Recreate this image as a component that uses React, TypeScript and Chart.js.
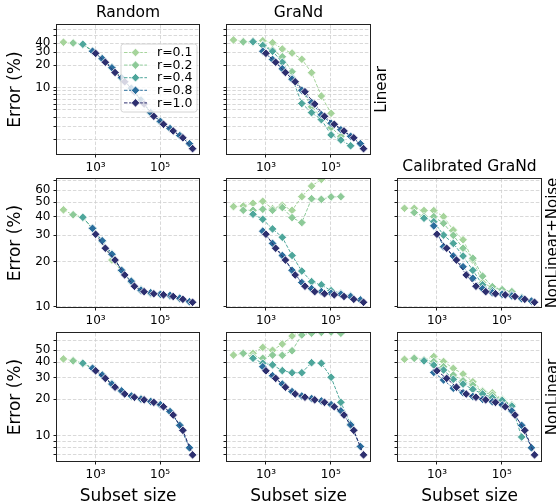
import { useEffect, useRef } from "react";
import { Chart, registerables } from "chart.js";

Chart.register(...registerables);
Chart.defaults.font.family = "'DejaVu Sans', sans-serif";
Chart.defaults.color = "#000";

const W = 556;
const H = 504;

// ---------- data ----------
const RATIO_LABELS = ["r=0.1", "r=0.2", "r=0.4", "r=0.8", "r=1.0"];
const COLORS = ["#a6d49b", "#8dca98", "#4ea69b", "#2b6e9d", "#2d2f6f"];

const SIZES_R01 = [100, 200, 400, 800, 1600, 3200, 6400, 12800, 25600, 51200, 102400];
const SIZES_R02 = [200, 400, 800, 1600, 3200, 6400, 12800, 25600, 51200, 102400, 204800];
const SIZES_R04 = [400, 800, 1600, 3200, 6400, 12800, 25600, 51200, 102400, 204800, 409600];
const SIZES_R08 = [800, 1600, 3200, 6400, 12800, 25600, 51200, 102400, 204800, 409600, 819200];
const SIZES_R10 = [1000, 2000, 4000, 8000, 16000, 32000, 64000, 128000, 256000, 512000, 1024000];
const SIZES = [SIZES_R01, SIZES_R02, SIZES_R04, SIZES_R08, SIZES_R10];

// r = 1.0 (no pruning) is identical for every method within a setting
const FULL_LINEAR = [29, 22, 16, 12, 8.8, 6.0, 4.1, 3.2, 2.6, 2.1, 1.5];
const FULL_NLNOISE = [30.5, 24.6, 20.5, 16.3, 13.7, 12.6, 12.2, 12.0, 11.7, 11.2, 10.7];
const FULL_NONLINEAR = [34, 29.5, 25, 22, 20.7, 19.7, 18.8, 17.3, 14.8, 11.1, 7.0];

// rows: r=0.1, r=0.2, r=0.4, r=0.8
const RANDOM_LINEAR = [
  [41, 40, 38.5, 31.5, 24.8, 18.8, 13.7, 9.9, 6.9, 4.6, 3.5],
  [40, 38.2, 31, 24.5, 18.4, 13.5, 9.7, 6.8, 4.6, 3.5, 2.8],
  [38.5, 31, 24.3, 18.6, 13.4, 9.8, 6.7, 4.5, 3.45, 2.8, 2.25],
  [31, 24.6, 18.5, 13.6, 9.8, 6.8, 4.6, 3.5, 2.8, 2.25, 1.75],
];
const GRAND_LINEAR = [
  [44, 41.7, 42, 43, 40.4, 33.2, 29.3, 24.1, 15.9, 7.7, 4.5],
  [41.5, 41, 38, 32.2, 26.1, 16.4, 9.3, 5.5, 4.0, 2.9, 2.2],
  [41.7, 37, 31, 22, 13.5, 6.1, 4.6, 3.7, 2.3, 1.96, 1.64],
  [31, 24, 18, 13, 9.2, 6.3, 4.3, 3.3, 2.7, 2.2, 1.75],
];
const RANDOM_NLNOISE = [
  [44.4, 41, 39.6, 33.2, 27.2, 20.5, 17.3, 14.6, 12.8, 12.4, 12.0],
  [41.2, 39.4, 33.6, 27.5, 22.3, 17.6, 14.9, 13.0, 12.2, 12.1, 11.8],
  [39.6, 33.3, 27.4, 22.6, 17.4, 14.7, 12.9, 12.3, 12.1, 11.9, 11.3],
  [33.4, 27.6, 22.4, 17.5, 14.8, 12.9, 12.4, 12.1, 11.9, 11.4, 10.8],
];
const GRAND_NLNOISE = [
  [46.7, 47.1, 49.1, 50.7, 45.2, 47.6, 44.1, 54.4, 64, 71, 82],
  [44.1, 44.1, 44.8, 44.1, 46.0, 39.4, 36.5, 52.7, 52.2, 54.2, 54.4],
  [41.5, 38.4, 33.1, 29.1, 22, 17.3, 14.7, 14.0, 12.8, 12.3, 11.8],
  [32, 26.5, 22, 17.5, 14.5, 13.2, 12.6, 12.3, 12.1, 11.7, 11.1],
];
const CALIB_NLNOISE = [
  [45.5, 45.5, 44, 43.9, 40, 32.5, 28, 20.5, 14.5, 13.4, 12.9],
  [42.6, 40, 40, 36.1, 30, 24.6, 21.1, 16, 13.6, 13, 12.6],
  [39, 37, 30.1, 26.5, 21.8, 17.5, 14, 12.8, 12.3, 12, 11.5],
  [34.7, 25.2, 21.8, 18.5, 15.5, 13.2, 12.4, 12.1, 11.8, 11.3, 10.9],
];
const RANDOM_NONLINEAR = [
  [42.5, 41.1, 39.0, 35.5, 31.2, 26.8, 23.1, 21.0, 20.1, 19.0, 18.1],
  [41.0, 39.3, 35.8, 31.5, 26.3, 23.4, 21.3, 19.9, 19.2, 17.9, 15.7],
  [39.2, 35.6, 31.3, 26.6, 23.2, 21.1, 20.0, 19.1, 18.0, 15.9, 12.3],
  [35.7, 31.4, 26.5, 23.3, 21.2, 20.0, 19.1, 18.0, 15.8, 12.2, 8.0],
];
const GRAND_NONLINEAR = [
  [45.7, 47.2, 47.2, 52.8, 50, 56.2, 65.4, 72, 78, 85, 90],
  [47.2, 44.3, 43, 45.7, 45.5, 49.6, 66.7, 69, 70, 70.5, 68.8],
  [43, 39.2, 38, 34.1, 32.8, 32.8, 39.6, 39.2, 30.1, 18.8, 12.5],
  [36.7, 31, 26.5, 23, 21.2, 20.2, 19.3, 18, 16, 12.3, 8.2],
];
const CALIB_NONLINEAR = [
  [42.2, 43.5, 41.7, 44.5, 40.5, 35.6, 32, 27.7, 23.3, 22.5, 20],
  [43, 41.7, 40.4, 36.7, 31.4, 28.2, 26, 23, 21.5, 19.9, 17.9],
  [41, 37.9, 34.5, 29, 26.5, 24, 22, 20.5, 19.5, 17.5, 9.8],
  [33, 28.6, 24.5, 22.5, 21, 19.9, 19, 17.9, 16, 12.2, 8.0],
];

const X_TICKS = [1000, 100000];
const X_TICK_LABELS = ["10³", "10⁵"];
const Y_TICKS_LINEAR = [2, 3, 4, 5, 6, 7, 8, 9, 10, 20, 30, 40, 50, 60];
const Y_LABELS_LINEAR = [10, 20, 30, 40];
const Y_TICKS_NLNOISE = [10, 20, 30, 40, 50, 60, 70];
const Y_LABELS_NLNOISE = [10, 20, 30, 40, 50, 60];
const Y_TICKS_NONLINEAR = [7, 8, 9, 10, 20, 30, 40, 50, 60];
const Y_LABELS_NONLINEAR = [10, 20, 30, 40, 50];

// ---------- layout ----------
const X_MIN = 63.1;
const X_MAX = 1.62e6;
const COLS = [
  { l: 57, r: 199 },
  { l: 227, r: 370 },
  { l: 398, r: 541 },
];
const ROWS = [
  { t: 25, b: 154, min: 1.27, max: 70, ticks: Y_TICKS_LINEAR, labels: Y_LABELS_LINEAR, full: FULL_LINEAR },
  { t: 179, b: 307, min: 9.95, max: 71.4, ticks: Y_TICKS_NLNOISE, labels: Y_LABELS_NLNOISE, full: FULL_NLNOISE },
  { t: 333, b: 461, min: 6.24, max: 69.2, ticks: Y_TICKS_NONLINEAR, labels: Y_LABELS_NONLINEAR, full: FULL_NONLINEAR },
];
const Y_AXIS_W = 40;
const X_AXIS_H = 24;

type PanelSpec = {
  col: number;
  row: number;
  series: number[][];
  title?: string;
  rowLabel?: string;
  ylabel?: boolean;
  xlabel?: boolean;
  legend?: boolean;
};

const PANELS: PanelSpec[] = [
  { col: 0, row: 0, series: RANDOM_LINEAR, title: "Random", ylabel: true, legend: true },
  { col: 1, row: 0, series: GRAND_LINEAR, title: "GraNd", rowLabel: "Linear" },
  { col: 0, row: 1, series: RANDOM_NLNOISE, ylabel: true },
  { col: 1, row: 1, series: GRAND_NLNOISE },
  { col: 2, row: 1, series: CALIB_NLNOISE, title: "Calibrated GraNd", rowLabel: "NonLinear+Noise" },
  { col: 0, row: 2, series: RANDOM_NONLINEAR, ylabel: true, xlabel: true },
  { col: 1, row: 2, series: GRAND_NONLINEAR, xlabel: true },
  { col: 2, row: 2, series: CALIB_NONLINEAR, xlabel: true, rowLabel: "NonLinear" },
];

const FONT = "'DejaVu Sans', sans-serif";
const GRID_COLOR = "#cfcfcf";

function drawDiamond(ctx: CanvasRenderingContext2D, x: number, y: number, r: number, color: string) {
  ctx.beginPath();
  ctx.moveTo(x - r, y);
  ctx.lineTo(x, y - r);
  ctx.lineTo(x + r, y);
  ctx.lineTo(x, y + r);
  ctx.closePath();
  ctx.fillStyle = color;
  ctx.fill();
  ctx.strokeStyle = "rgba(255,255,255,0.9)";
  ctx.lineWidth = 0.9;
  ctx.stroke();
}

const decorPlugin = {
  id: "decor",
  afterDraw(chart: any, _args: any, opts: any) {
    const ctx: CanvasRenderingContext2D = chart.ctx;
    const a = chart.chartArea;
    ctx.save();
    // frame
    ctx.strokeStyle = "#222";
    ctx.lineWidth = 1;
    ctx.setLineDash([]);
    ctx.strokeRect(Math.round(a.left) - 0.5, Math.round(a.top) - 0.5, Math.round(a.right - a.left) + 1, Math.round(a.bottom - a.top) + 1);

    const cx = (a.left + a.right) / 2;
    const cy = (a.top + a.bottom) / 2;
    ctx.fillStyle = "#000";
    if (opts.title) {
      ctx.font = `15.5px ${FONT}`;
      ctx.textAlign = "center";
      ctx.textBaseline = "alphabetic";
      ctx.fillText(opts.title, cx, a.top - 8);
    }
    if (opts.xlabel) {
      ctx.font = `17px ${FONT}`;
      ctx.textAlign = "center";
      ctx.textBaseline = "alphabetic";
      ctx.fillText("Subset size", cx, 501);
    }
    const vtext = (t: string, x: number, y: number, size: number) => {
      ctx.save();
      ctx.translate(x, y);
      ctx.rotate(-Math.PI / 2);
      ctx.font = `${size}px ${FONT}`;
      ctx.textAlign = "center";
      ctx.textBaseline = "middle";
      ctx.fillText(t, 0, 0);
      ctx.restore();
    };
    if (opts.ylabel) vtext("Error (%)", 16, cy, 17);
    if (opts.rowLabel) vtext(opts.rowLabel, a.right + 12, cy, 15);

    if (opts.legend) {
      const bx = 121, by = 44, bw = 76, bh = 68;
      ctx.beginPath();
      const rr = 2.5;
      ctx.moveTo(bx + rr, by);
      ctx.lineTo(bx + bw - rr, by);
      ctx.quadraticCurveTo(bx + bw, by, bx + bw, by + rr);
      ctx.lineTo(bx + bw, by + bh - rr);
      ctx.quadraticCurveTo(bx + bw, by + bh, bx + bw - rr, by + bh);
      ctx.lineTo(bx + rr, by + bh);
      ctx.quadraticCurveTo(bx, by + bh, bx, by + bh - rr);
      ctx.lineTo(bx, by + rr);
      ctx.quadraticCurveTo(bx, by, bx + rr, by);
      ctx.closePath();
      ctx.fillStyle = "rgba(255,255,255,0.8)";
      ctx.fill();
      ctx.strokeStyle = "#d4d4d4";
      ctx.lineWidth = 1;
      ctx.stroke();
      chart.data.datasets.forEach((ds: any, i: number) => {
        const y = by + 8.5 + i * 12.6;
        ctx.strokeStyle = ds.borderColor;
        ctx.lineWidth = 1;
        ctx.setLineDash([3.5, 1.6]);
        ctx.beginPath();
        ctx.moveTo(bx + 3, y);
        ctx.lineTo(bx + 26, y);
        ctx.stroke();
        ctx.setLineDash([]);
        drawDiamond(ctx, bx + 14.5, y, 4.3, ds.backgroundColor);
        ctx.fillStyle = "#000";
        ctx.font = `12.5px ${FONT}`;
        ctx.textAlign = "left";
        ctx.textBaseline = "middle";
        ctx.fillText(ds.label, bx + 36, y + 0.5);
      });
    }
    ctx.restore();
  },
};

function buildConfig(p: PanelSpec): any {
  const col = COLS[p.col];
  const row = ROWS[p.row];
  const allSeries = [...p.series, row.full];
  const datasets = allSeries.map((vals, i) => ({
    label: RATIO_LABELS[i],
    data: SIZES[i].map((x, k) => ({ x, y: vals[k] })),
    borderColor: COLORS[i],
    backgroundColor: COLORS[i],
    borderWidth: 1,
    borderDash: [3.5, 1.6],
    pointStyle: "rectRot",
    pointRadius: 4.3,
    pointHoverRadius: 4.3,
    pointBackgroundColor: COLORS[i],
    pointBorderColor: "rgba(255,255,255,0.9)",
    pointBorderWidth: 0.9,
    tension: 0,
    fill: false,
    clip: 0,
    order: 4 - i,
  }));
  const showY = p.col === 0;
  return {
    type: "line",
    data: { datasets },
    plugins: [decorPlugin],
    options: {
      responsive: false,
      maintainAspectRatio: false,
      animation: false,
      devicePixelRatio: 1,
      events: [],
      layout: {
        padding: {
          left: col.l - Y_AXIS_W,
          top: row.t,
          right: W - col.r,
          bottom: H - row.b - X_AXIS_H,
        },
      },
      plugins: {
        legend: { display: false },
        tooltip: { enabled: false },
        decor: {
          title: p.title,
          rowLabel: p.rowLabel,
          ylabel: p.ylabel,
          xlabel: p.xlabel,
          legend: p.legend,
        },
      },
      scales: {
        x: {
          type: "logarithmic",
          min: X_MIN,
          max: X_MAX,
          bounds: "data",
          afterBuildTicks: (s: any) => {
            s.ticks = X_TICKS.map((v) => ({ value: v }));
          },
          afterFit: (s: any) => {
            s.height = X_AXIS_H;
          },
          ticks: {
            autoSkip: false,
            maxRotation: 0,
            minRotation: 0,
            padding: 3,
            font: { size: 12, family: FONT },
            color: "#000",
            callback: (v: number) => {
              const i = X_TICKS.indexOf(v);
              return i >= 0 ? X_TICK_LABELS[i] : "";
            },
          },
          grid: {
            color: GRID_COLOR,
            lineWidth: 0.8,
            drawTicks: true,
            tickLength: 3.5,
            tickColor: "#000",
            tickWidth: 0.9,
            tickBorderDash: [],
          },
          border: { display: false, dash: [3.5, 1.8] },
        },
        y: {
          type: "logarithmic",
          min: row.min,
          max: row.max,
          bounds: "data",
          afterBuildTicks: (s: any) => {
            s.ticks = row.ticks.filter((v) => v >= row.min && v <= row.max).map((v) => ({ value: v }));
          },
          afterFit: (s: any) => {
            s.width = Y_AXIS_W;
          },
          ticks: {
            autoSkip: false,
            padding: 3,
            font: { size: 12, family: FONT },
            color: "#000",
            callback: (v: number) => (showY && row.labels.includes(v) ? String(v) : ""),
          },
          grid: {
            color: GRID_COLOR,
            lineWidth: 0.8,
            drawTicks: true,
            tickLength: 3.5,
            tickColor: "#000",
            tickWidth: 0.9,
            tickBorderDash: [],
          },
          border: { display: false, dash: [3.5, 1.8] },
        },
      },
    },
  };
}

function Panel({ spec }: { spec: PanelSpec }) {
  const ref = useRef<HTMLCanvasElement>(null);
  useEffect(() => {
    const chart = new Chart(ref.current as HTMLCanvasElement, buildConfig(spec));
    return () => chart.destroy();
  }, [spec]);
  return (
    <canvas
      ref={ref}
      width={W}
      height={H}
      style={{ position: "absolute", left: 0, top: 0, width: W, height: H }}
    />
  );
}

export default function App() {
  return (
    <div style={{ position: "absolute", left: 0, top: 0, width: W, height: H, background: "#fff", overflow: "hidden" }}>
      {PANELS.map((p, i) => (
        <Panel key={i} spec={p} />
      ))}
    </div>
  );
}
